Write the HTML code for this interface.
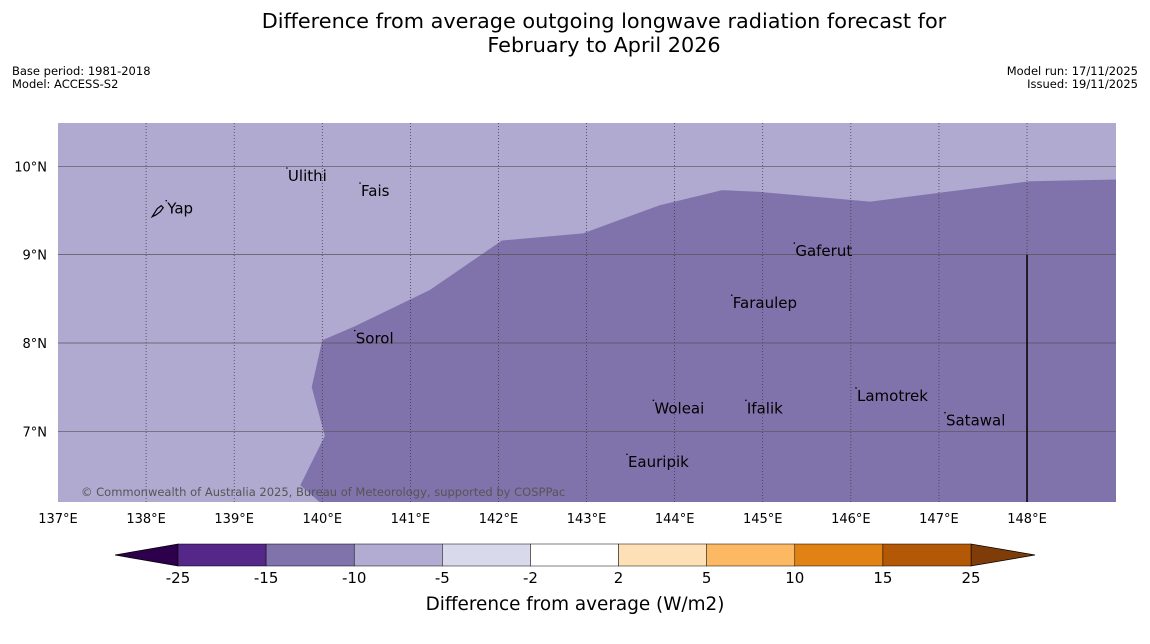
<!DOCTYPE html>
<html><head><meta charset="utf-8">
<style>
html,body{margin:0;padding:0;background:#fff;width:1150px;height:644px;overflow:hidden;font-family:"Liberation Sans","DejaVu Sans",sans-serif;}
</style></head>
<body>
<svg id="chart" width="1150" height="644" xmlns="http://www.w3.org/2000/svg" font-family="DejaVu Sans, Liberation Sans, sans-serif">
<text x="604" y="28" font-size="20.8" text-anchor="middle" fill="#000">Difference from average outgoing longwave radiation forecast for</text>
<text x="604" y="52" font-size="20.8" text-anchor="middle" fill="#000">February to April 2026</text>
<text x="12" y="75" font-size="11.5">Base period: 1981-2018</text>
<text x="12" y="88" font-size="11.5">Model: ACCESS-S2</text>
<text x="1138" y="75" font-size="11.5" text-anchor="end">Model run: 17/11/2025</text>
<text x="1138" y="88" font-size="11.5" text-anchor="end">Issued: 19/11/2025</text>
<g id="map"></g>
<g id="cbar"></g>
<text x="575" y="610" font-size="18.4" text-anchor="middle">Difference from average (W/m2)</text>
</svg>
<script>
const lonTicks=[137,138,139,140,141,142,143,144,145,146,147,148];
const latTicks=[7,8,9,10];
const boundaryLon=[149.01,148.03,147.24,146.22,144.97,144.54,143.83,142.96,142.04,141.22,140.37,140.0,139.88,140.03,139.75,139.97];
const boundaryLat=[9.85,9.83,9.73,9.60,9.71,9.73,9.56,9.24,9.16,8.60,8.19,8.03,7.50,6.95,6.39,6.2];
const islandNames=["Yap","Ulithi","Fais","Gaferut","Faraulep","Sorol","Woleai","Ifalik","Lamotrek","Satawal","Eauripik"];
const islandLon=[138.24,139.61,140.44,145.37,144.66,140.38,143.77,144.82,146.07,147.08,143.47];
const islandLat=[9.52,9.89,9.72,9.04,8.45,8.05,7.26,7.26,7.40,7.12,6.65];
const cbarLevels=["-25","-15","-10","-5","-2","2","5","10","15","25"];
const cbarColors=["#542788","#8073ac","#b2abd2","#d8daeb","#ffffff","#fee0b6","#fdb863","#e08214","#b35806"];
const cbarExtLow="#2d004b", cbarExtHigh="#7f3b08";

const NS="http://www.w3.org/2000/svg";
const X0=58,X1=1116,Y0=123,Y1=502;
const lonMin=137,lonMax=149.01,latMin=6.2,latMax=10.49;
const xs=l=>X0+(l-lonMin)/(lonMax-lonMin)*(X1-X0);
const ys=l=>Y1-(l-latMin)/(latMax-latMin)*(Y1-Y0);
function mk(tag,attrs,parent){const e=document.createElementNS(NS,tag);for(const k in attrs)e.setAttribute(k,attrs[k]);parent.appendChild(e);return e;}
const map=document.getElementById('map');
let r=mk('rect',{x:X0,y:Y0,width:X1-X0,height:Y1-Y0,fill:'#b0aad1'},map);


let pts=boundaryLon.map((l,i)=>xs(l).toFixed(1)+','+ys(boundaryLat[i]).toFixed(1));
pts.push(X1+','+Y1);
let pg=mk('polygon',{points:pts.join(' '),fill:'#8073ac'},map);


lonTicks.forEach(l=>{
  const x=xs(l);
  if(l>lonMin){let g=mk('line',{x1:x,x2:x,y1:Y0,y2:Y1,stroke:'#333',"stroke-width":0.7,"stroke-dasharray":"1,2"},map);
  
  }
  let t=mk('text',{x:x,y:523,"font-size":13,"text-anchor":"middle"},map);t.textContent=l+'°E';
  
  
});
latTicks.forEach(l=>{
  const y=ys(l);
  let g=mk('line',{x1:X0,x2:X1,y1:y,y2:y,stroke:'#555',"stroke-width":0.7},map);
  
  
  let t=mk('text',{x:47,y:y+5,"font-size":13,"text-anchor":"end"},map);t.textContent=l+'°N';
  
  
});
let vl=mk('line',{x1:xs(148),x2:xs(148),y1:ys(9),y2:Y1,stroke:'#000',"stroke-width":1.5},map);


islandNames.forEach((n,i)=>{
  const x=xs(islandLon[i]),y=ys(islandLat[i]);
  let t=mk('text',{x:x,y:y+5,"font-size":15},map);t.textContent=n;
  
  
  let d=mk('circle',{cx:x-1,cy:y-8,r:0.8,fill:'#000'},map);
  
  
});
let yap=mk('path',{d:'M'+(xs(138.24)-15)+','+(ys(9.52)+8)+' l5,-8 l4,-3 l2,2 l-3,4 l-4,3 z',fill:'none',stroke:'#000',"stroke-width":1.2},map);


let cp=mk('text',{x:81,y:496,"font-size":11.5,fill:'#555'},map);cp.textContent='© Commonwealth of Australia 2025, Bureau of Meteorology, supported by COSPPac';



const cb=document.getElementById('cbar');
const CX0=178,CX1=971,CY0=544,CY1=566,n=cbarColors.length,w=(CX1-CX0)/n;
let lo=mk('polygon',{points:`115,555 ${CX0},${CY0} ${CX0},${CY1}`,fill:cbarExtLow,stroke:'#000',"stroke-width":0.7},cb);


let hi=mk('polygon',{points:`1035,555 ${CX1},${CY0} ${CX1},${CY1}`,fill:cbarExtHigh,stroke:'#000',"stroke-width":0.7},cb);


cbarColors.forEach((c,i)=>{
  let b=mk('rect',{x:CX0+i*w,y:CY0,width:w,height:CY1-CY0,fill:c,stroke:'#000',"stroke-width":0.5},cb);
  
  
});
cbarLevels.forEach((l,i)=>{
  let t=mk('text',{x:CX0+i*w,y:583,"font-size":15,"text-anchor":"middle"},cb);t.textContent=l;
  
  
});
</script>
</body></html>
